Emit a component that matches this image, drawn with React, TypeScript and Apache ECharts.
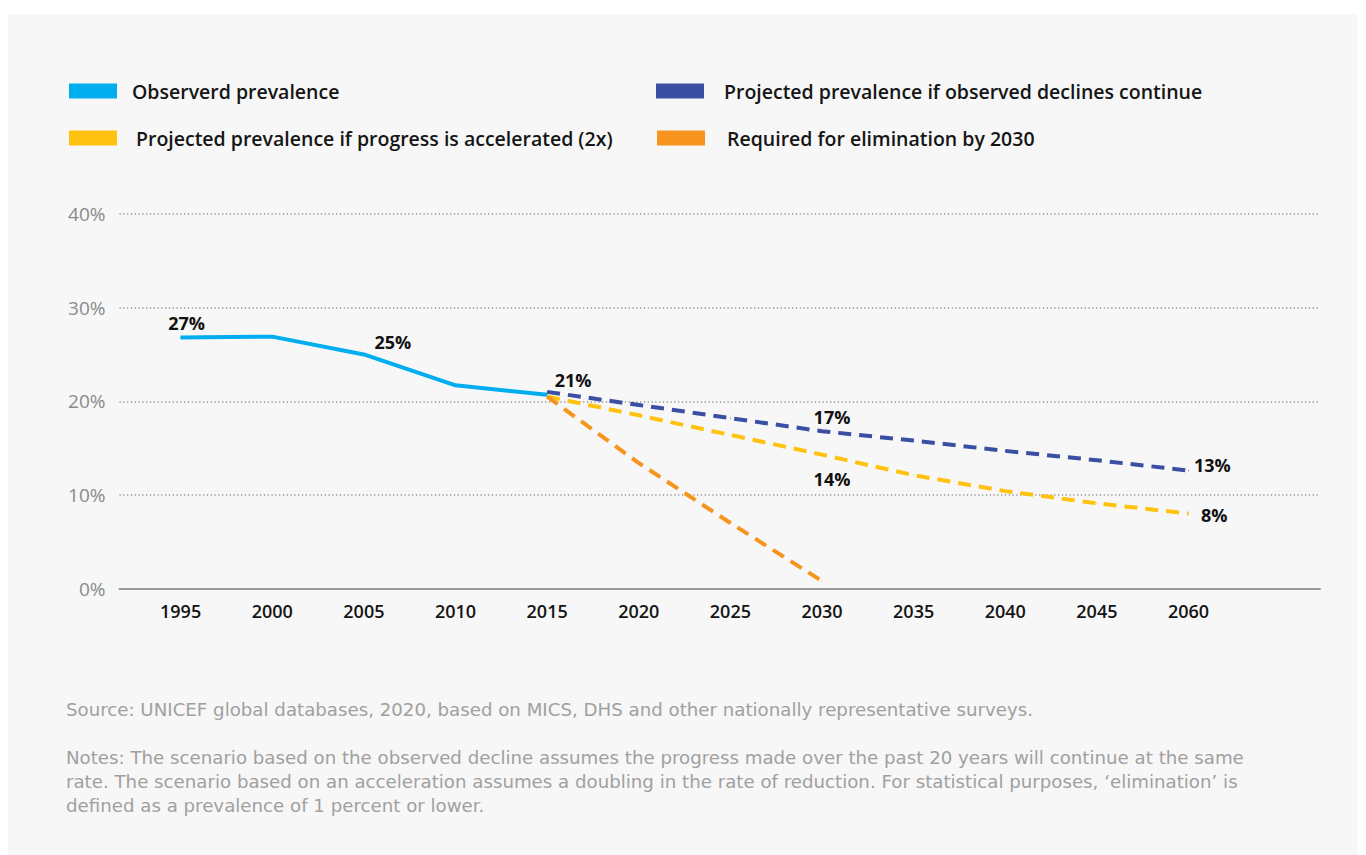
import React, { useEffect, useRef } from "react";
import * as echarts from "echarts";

const years = ["1995", "2000", "2005", "2010", "2015", "2020", "2025", "2030", "2035", "2040", "2045", "2060"];
const observed = [26.8, 26.9, 25.0, 21.7, 20.7, null, null, null, null, null, null, null];
const declinesContinue = [null, null, null, null, 21.0, 19.6, 18.2, 16.8, 15.8, 14.7, 13.7, 12.6];
const accelerated = [null, null, null, null, 20.5, 18.5, 16.4, 14.3, 12.1, 10.4, 9.1, 8.0];
const elimination = [null, null, null, null, 20.5, 13.4, 7.0, 0.8, null, null, null, null];
const yTicks = [0, 10, 20, 30, 40];

const seriesNames = [
  "Observerd prevalence",
  "Projected prevalence if observed declines continue",
  "Projected prevalence if progress is accelerated (2x)",
  "Required for elimination by 2030",
];
const sourceText =
  "Source: UNICEF global databases, 2020, based on MICS, DHS and other nationally representative surveys.";
const notesLines = [
  "Notes: The scenario based on the observed decline assumes the progress made over the past 20 years will continue at the same",
  "rate. The scenario based on an acceleration assumes a doubling in the rate of reduction. For statistical purposes, \u2018elimination\u2019 is",
  "defined as a prevalence of 1 percent or lower.",
];

const FONT = "'Open Sans', sans-serif";
const FOOT_FONT = "'DejaVu Sans', sans-serif";
const COLORS = ["#00aeef", "#3a4fa3", "#ffc20e", "#f7941d"];

type LabelCfg = { position: string; offset: number[] };

function buildData(values: (number | null)[], labels: Record<number, LabelCfg>) {
  const out: any[] = [];
  values.forEach((v, i) => {
    if (v === null) return;
    const l = labels[i];
    if (l) {
      out.push({ value: [i, v], label: { show: true, position: l.position, offset: l.offset } });
    } else {
      out.push({ value: [i, v] });
    }
  });
  return out;
}

export default function App() {
  const ref = useRef<HTMLDivElement>(null);

  useEffect(() => {
    if (!ref.current) return;
    const chart = echarts.init(ref.current, undefined, { renderer: "svg" });

    const labelBase = {
      show: false,
      formatter: (p: any) => Math.round(p.value[1]) + "%",
      fontFamily: FONT,
      fontSize: 18,
      fontWeight: "bold",
      color: "#111111",
    };

    const mkSeries = (idx: number, values: (number | null)[], labels: Record<number, LabelCfg>, dashed: boolean) => ({
      name: seriesNames[idx],
      type: "line",
      data: buildData(values, labels),
      symbol: "circle",
      symbolSize: 1,
      showSymbol: true,
      itemStyle: { color: COLORS[idx] },
      lineStyle: {
        color: COLORS[idx],
        width: 4,
        type: dashed ? [13, 8] : "solid",
        cap: "butt",
      },
      label: labelBase,
      emphasis: { disabled: true },
      z: 2 + idx,
    });

    const legendBase = (name: string, left: number, top: number, pad: number) => ({
      data: [name],
      left,
      top,
      padding: 0,
      icon: "rect",
      itemWidth: 48,
      itemHeight: 15,
      itemStyle: { borderWidth: 0 },
      selectedMode: false,
      textStyle: {
        fontFamily: FONT,
        fontSize: 19.5,
        fontWeight: 600,
        color: "#151515",
        lineHeight: 15,
        padding: [0, 0, 2, pad],
      },
    });

    const footText = (text: string, y: number) => ({
      type: "text",
      x: 66,
      y,
      silent: true,
      style: {
        text,
        fontFamily: FOOT_FONT,
        fontSize: 18.2,
        fill: "#a0a0a0",
        verticalAlign: "middle",
      },
    });

    const option: any = {
      animation: false,
      backgroundColor: "transparent",
      textStyle: { fontFamily: FONT },
      legend: [
        legendBase(seriesNames[0], 69, 81, 10),
        legendBase(seriesNames[1], 656, 81, 15),
        legendBase(seriesNames[2], 69, 128, 14),
        legendBase(seriesNames[3], 657, 128, 17),
      ],
      grid: { left: 119.5, right: 1366 - 1320, top: 214, bottom: 855 - 588.5, containLabel: false },
      xAxis: {
        type: "value",
        min: -0.667,
        max: 12.435,
        axisLine: { show: true, onZero: false, lineStyle: { color: "#9a9a9a", width: 2 } },
        axisTick: { show: false },
        splitLine: { show: false },
        axisLabel: {
          customValues: years.map((_, i) => i),
          formatter: (v: number) => years[Math.round(v)] ?? "",
          margin: 13,
          fontFamily: FONT,
          fontSize: 18,
          fontWeight: 600,
          color: "#141414",
        },
      },
      yAxis: {
        type: "value",
        min: 0,
        max: 40,
        interval: 10,
        axisLine: { show: false },
        axisTick: { show: false },
        axisLabel: {
          customValues: yTicks,
          formatter: (v: number) => v + "%",
          margin: 14,
          fontFamily: FONT,
          fontSize: 19,
          color: "#8a8a8a",
        },
        splitLine: {
          show: true,
          lineStyle: { color: "#8f8f8f", width: 1.5, type: [1.2, 2.6] },
        },
      },
      graphic: [
        footText(sourceText, 709),
        footText(notesLines[0], 757),
        footText(notesLines[1], 781),
        footText(notesLines[2], 805),
      ],
      series: [
        mkSeries(0, observed, { 0: { position: "top", offset: [6, 0] }, 2: { position: "top", offset: [29, 2] } }, false),
        mkSeries(
          1,
          declinesContinue,
          {
            4: { position: "top", offset: [26, 3] },
            7: { position: "top", offset: [10, 0] },
            11: { position: "right", offset: [0, -6] },
          },
          true
        ),
        mkSeries(
          2,
          accelerated,
          { 7: { position: "bottom", offset: [10, 10] }, 11: { position: "right", offset: [7, 1] } },
          true
        ),
        mkSeries(3, elimination, {}, true),
      ],
    };

    chart.setOption(option);
    return () => chart.dispose();
  }, []);

  return (
    <div style={{ position: "absolute", left: 0, top: 0, width: 1366, height: 855, background: "#ffffff", overflow: "hidden" }}>
      <div style={{ position: "absolute", left: 8, top: 14, width: 1350, height: 841, background: "#f7f7f7" }} />
      <div ref={ref} style={{ position: "absolute", left: 0, top: 0, width: 1366, height: 855 }} />
    </div>
  );
}
